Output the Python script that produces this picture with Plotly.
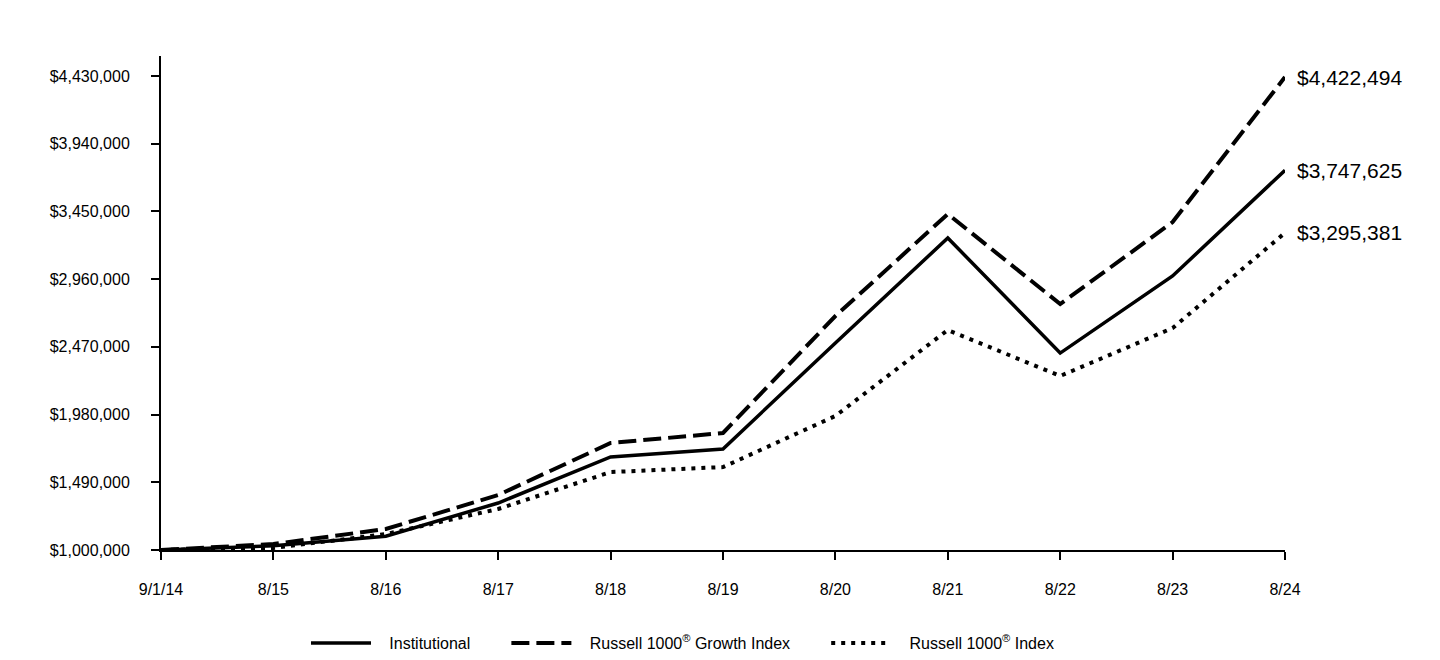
import plotly.graph_objects as go

dates = ["9/1/14", "8/15", "8/16", "8/17", "8/18", "8/19", "8/20", "8/21", "8/22", "8/23", "8/24"]

institutional = [1000000, 1030000, 1100000, 1340000, 1673000, 1731000, 2498000, 3258000, 2425000, 2983000, 3747625]
growth_index = [1000000, 1043000, 1152000, 1398000, 1774000, 1847000, 2693000, 3431000, 2780000, 3373000, 4422494]
russell_index = [1000000, 1015000, 1115000, 1297000, 1564000, 1600000, 1970000, 2592000, 2259000, 2606000, 3295381]

y_ticks = [1000000, 1490000, 1980000, 2470000, 2960000, 3450000, 3940000, 4430000]

series = [
    ("Institutional", institutional, dict(color="black", width=3.5, dash="solid")),
    ("Russell 1000<sup>®</sup> Growth Index", growth_index, dict(color="black", width=4, dash="18px,7px")),
    ("Russell 1000<sup>®</sup> Index", russell_index, dict(color="black", width=4, dash="4px,6px")),
]

font = "Arial, Liberation Sans, sans-serif"
nb = "\u00a0"

fig = go.Figure()
for i, (name, vals, line) in enumerate(series):
    # pad legend names with non-breaking spaces to widen the gaps
    label = nb * 3 + name + (nb * 7 if i < len(series) - 1 else "")
    fig.add_trace(go.Scatter(x=dates, y=vals, mode="lines", name=label, line=line))
    # end-value label
    fig.add_annotation(x=dates[-1], y=vals[-1], text="${:,}".format(vals[-1]),
                       xanchor="left", yanchor="middle", xshift=10, showarrow=False,
                       font=dict(family=font, size=21, color="black"))

fig.update_xaxes(
    type="category", range=[0, len(dates) - 1], automargin=False,
    showline=True, linecolor="black", linewidth=2,
    ticks="outside", ticklen=8, tickwidth=2, tickcolor="black",
    showgrid=False, zeroline=False, ticklabelstandoff=16,
    tickfont=dict(family=font, size=16, color="black"),
)
fig.update_yaxes(
    range=[1000000, 4574700], tickvals=y_ticks, automargin=False,
    ticktext=["${:,}".format(v) for v in y_ticks],
    showline=True, linecolor="black", linewidth=2,
    ticks="outside", ticklen=8, tickwidth=2, tickcolor="black",
    showgrid=False, zeroline=False, ticklabelstandoff=18,
    tickfont=dict(family=font, size=16, color="black"),
)

# page body adds an 8px offset, so the figure is a bit smaller than the window
fig.update_layout(
    width=1432, height=652,
    margin=dict(l=153, r=155, t=48, b=110),
    plot_bgcolor="white", paper_bgcolor="white",
    font=dict(family=font, size=16, color="black"),
    legend=dict(orientation="h", x=0.129, xanchor="left",
                yref="container", y=-0.011, yanchor="bottom",
                font=dict(family=font, size=16, color="black"), itemwidth=60,
                traceorder="normal"),
)

fig.write_html("out.html")
